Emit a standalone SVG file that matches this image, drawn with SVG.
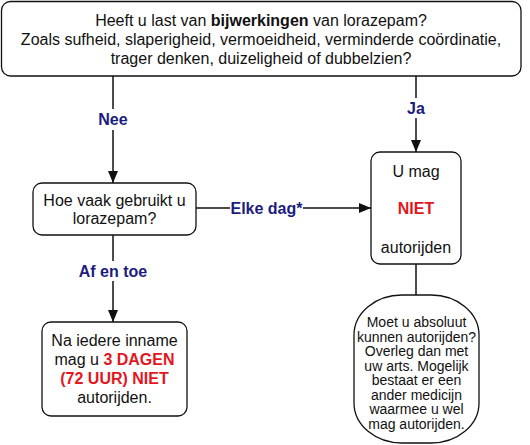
<svg xmlns="http://www.w3.org/2000/svg" width="530" height="445" viewBox="0 0 530 445">
<style>
text{font-family:"Liberation Sans",Arial,sans-serif;font-size:16px;fill:#111;text-anchor:middle}
.box{fill:#fff;stroke:#111;stroke-width:1.3}
.lbl{font-weight:bold;fill:#1c1c80}
.red{font-weight:bold;fill:#e4161d}
.b{font-weight:bold}
.sm{font-size:14px}
.ln{stroke:#111;stroke-width:1.5;fill:none}
</style>
<defs>
<marker id="ah" markerWidth="12" markerHeight="12" viewBox="0 0 12 12" refX="12" refY="6" orient="auto" markerUnits="userSpaceOnUse">
<path d="M0,1 L12,6 L0,11 Z" fill="#111"/>
</marker>
</defs>
<rect width="530" height="445" fill="#fff"/>
<g id="connectors">
<line class="ln" x1="113" y1="76" x2="113" y2="109"/>
<line class="ln" x1="113" y1="130" x2="113" y2="183" marker-end="url(#ah)"/>
<line class="ln" x1="416" y1="76" x2="416" y2="98"/>
<line class="ln" x1="416" y1="118" x2="416" y2="152" marker-end="url(#ah)"/>
<line class="ln" x1="196" y1="208" x2="230" y2="208"/>
<line class="ln" x1="303" y1="208" x2="371" y2="208" marker-end="url(#ah)"/>
<line class="ln" x1="113" y1="235" x2="113" y2="261"/>
<line class="ln" x1="113" y1="281" x2="113" y2="322" marker-end="url(#ah)"/>
<line class="ln" x1="416" y1="264" x2="416" y2="295"/>
<text class="lbl" x="113" y="125">Nee</text>
<text class="lbl" x="416" y="114">Ja</text>
<text class="lbl" x="266.5" y="214">Elke dag*</text>
<text class="lbl" x="113" y="277">Af en toe</text>
</g>
<g id="n-top">
<rect class="box" x="1.5" y="1.5" width="519.5" height="74.5" rx="9"/>
<text x="261" y="26">Heeft u last van <tspan class="b">bijwerkingen</tspan> van lorazepam?</text>
<text x="261" y="45">Zoals sufheid, slaperigheid, vermoeidheid, verminderde coördinatie,</text>
<text x="261" y="64">trager denken, duizeligheid of dubbelzien?</text>
</g>
<g id="n-hoevaak">
<rect class="box" x="33" y="183" width="163" height="52" rx="9"/>
<text x="114.5" y="206">Hoe vaak gebruikt u</text>
<text x="114.5" y="224">lorazepam?</text>
</g>
<g id="n-niet">
<rect class="box" x="371" y="152" width="90" height="112" rx="9"/>
<text x="416" y="177">U mag</text>
<text class="red" x="416" y="214">NIET</text>
<text x="416" y="253">autorijden</text>
</g>
<g id="n-3dagen">
<rect class="box" x="42" y="322" width="145" height="94" rx="9"/>
<text x="114.5" y="346">Na iedere inname</text>
<text x="114.5" y="365">mag u <tspan class="red">3 DAGEN</tspan></text>
<text class="red" x="114.5" y="384">(72 UUR) NIET</text>
<text x="114.5" y="403">autorijden.</text>
</g>
<g id="n-overleg">
<rect class="box" x="354" y="295" width="125" height="148" rx="48" ry="40"/>
<text class="sm" x="416.5" y="327">Moet u absoluut</text>
<text class="sm" x="416.5" y="341.5">kunnen autorijden?</text>
<text class="sm" x="416.5" y="356">Overleg dan met</text>
<text class="sm" x="416.5" y="370.5">uw arts. Mogelijk</text>
<text class="sm" x="416.5" y="385">bestaat er een</text>
<text class="sm" x="416.5" y="399.5">ander medicijn</text>
<text class="sm" x="416.5" y="414">waarmee u wel</text>
<text class="sm" x="416.5" y="428.5">mag autorijden.</text>
</g>
</svg>
